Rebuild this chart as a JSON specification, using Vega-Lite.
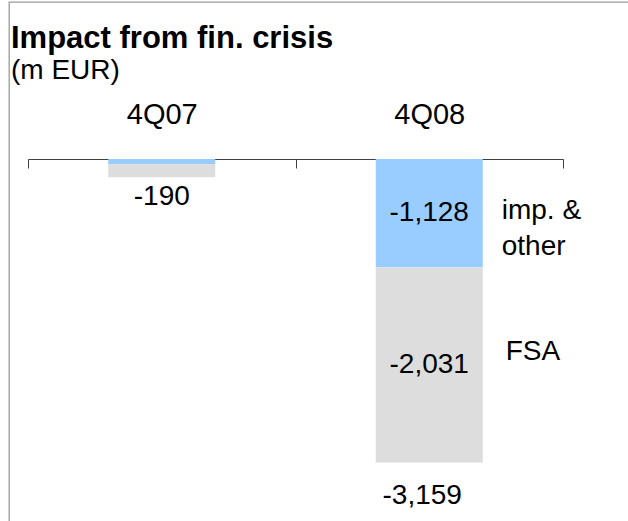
{
  "$schema": "https://vega.github.io/schema/vega-lite/v6.json",
  "autosize": "none",
  "padding": {"left": 9, "top": 2, "right": -2, "bottom": -2},
  "width": 621,
  "height": 521,
  "background": "white",
  "title": {
    "text": "Impact from fin. crisis",
    "subtitle": "(m EUR)",
    "anchor": "start",
    "frame": "group",
    "orient": "top",
    "offset": -84,
    "dx": 2,
    "font": "Liberation Sans",
    "fontSize": 31,
    "fontWeight": "bold",
    "color": "#000000",
    "subtitleFont": "Liberation Sans",
    "subtitleFontSize": 28,
    "subtitleColor": "#000000",
    "subtitlePadding": 2
  },
  "datasets": {
    "main": [
      {"q": "4Q07", "series": "imp. & other", "value": -55, "label": "", "tag": ""},
      {"q": "4Q07", "series": "FSA", "value": -135, "label": "", "tag": ""},
      {"q": "4Q08", "series": "imp. & other", "value": -1128, "label": "-1,128", "tag": "imp. &\nother"},
      {"q": "4Q08", "series": "FSA", "value": -2031, "label": "-2,031", "tag": "FSA"}
    ],
    "totals": [
      {"q": "4Q07", "total": -190, "label": "-190"},
      {"q": "4Q08", "total": -3159, "label": "-3,159"}
    ]
  },
  "config": {
    "view": {"stroke": "#9a9a9a", "strokeWidth": 1.3},
    "text": {"font": "Liberation Sans", "fontSize": 28, "color": "#000000"}
  },
  "encoding": {
    "x": {
      "field": "q",
      "type": "nominal",
      "scale": {"range": [19, 554], "paddingInner": 0, "paddingOuter": 0},
      "axis": {
        "orient": "top",
        "offset": -157,
        "title": null,
        "labelAngle": 0,
        "labelFont": "Liberation Sans",
        "labelFontSize": 29,
        "labelColor": "#000000",
        "labelBaseline": "alphabetic",
        "labelPadding": 45,
        "labelOverlap": false,
        "tickBand": "extent",
        "tickSize": -9,
        "tickWidth": 1,
        "tickColor": "#404040",
        "domainColor": "#404040",
        "domainWidth": 1
      }
    }
  },
  "layer": [
    {
      "data": {"name": "main"},
      "mark": {"type": "bar", "width": {"band": 0.4}},
      "encoding": {
        "y": {"field": "value", "type": "quantitative", "stack": "zero", "scale": {"domain": [-3790, 1634], "nice": false, "zero": false}, "axis": null},
        "color": {"field": "series", "type": "nominal", "scale": {"domain": ["imp. & other", "FSA"], "range": ["#99CCFF", "#DDDDDD"]}, "legend": null},
        "order": {"field": "series", "sort": "descending"}
      }
    },
    {
      "data": {"name": "main"},
      "transform": [{"filter": "datum.q === '4Q08'"}],
      "mark": {"type": "text", "baseline": "middle", "align": "center"},
      "encoding": {
        "y": {"field": "value", "type": "quantitative", "stack": "zero", "bandPosition": 0.5},
        "detail": {"field": "series"},
        "order": {"field": "series", "sort": "descending"},
        "text": {"field": "label"}
      }
    },
    {
      "data": {"name": "main"},
      "transform": [{"filter": "datum.q === '4Q08'"}],
      "mark": {
        "type": "text",
        "baseline": "alphabetic",
        "align": "left",
        "lineBreak": "\n",
        "lineHeight": 36,
        "dx": {"expr": "datum.series === 'FSA' ? 23 : 19"},
        "dy": {"expr": "datum.series === 'FSA' ? -5 : 6"}
      },
      "encoding": {
        "x": {"field": "q", "type": "nominal", "bandPosition": 0.7},
        "y": {"field": "value", "type": "quantitative", "stack": "zero", "bandPosition": 0.5},
        "detail": {"field": "series"},
        "order": {"field": "series", "sort": "descending"},
        "text": {"field": "tag"}
      }
    },
    {
      "data": {"name": "totals"},
      "mark": {
        "type": "text",
        "baseline": "alphabetic",
        "align": "center",
        "dx": {"expr": "datum.q === '4Q07' ? 0 : -7"},
        "dy": {"expr": "datum.q === '4Q07' ? 28 : 41.6"}
      },
      "encoding": {
        "y": {"field": "total", "type": "quantitative"},
        "text": {"field": "label"}
      }
    }
  ]
}
